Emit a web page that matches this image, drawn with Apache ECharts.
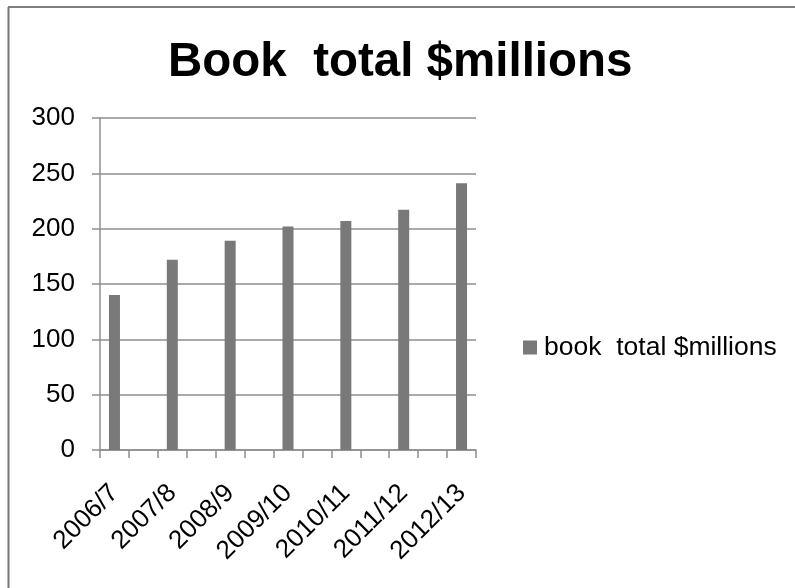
<!DOCTYPE html>
<html>
<head>
<meta charset="utf-8">
<script src="https://cdn.jsdelivr.net/npm/echarts@6/dist/echarts.min.js"></script>
<style>
html,body{margin:0;padding:0;background:#fff;}
#c{width:795px;height:588px;}
</style>
</head>
<body>
<div id="c"></div>
<script>
var categories = ['2006/7','','2007/8','','2008/9','','2009/10','','2010/11','','2011/12','','2012/13'];
var values = [140,null,172,null,189,null,202,null,207,null,217,null,241];
var yTicks = {min:0, max:300, interval:50};
var seriesName = 'book  total $millions';
var titleText = 'Book  total $millions';

var chart = echarts.init(document.getElementById('c'));
var font = 'Liberation Sans, Arial, sans-serif';
chart.setOption({
  animation:false,
  backgroundColor:'#fff',
  textStyle:{fontFamily:font},
  title:{
    text:titleText, left:168, top:39, padding:0,
    textStyle:{fontFamily:font, fontWeight:'bold', fontSize:47.5, color:'#000', lineHeight:48}
  },
  legend:{
    left:523, top:334, padding:0, icon:'rect', itemWidth:14, itemHeight:14, itemGap:0,
    textStyle:{fontFamily:font, fontSize:26.5, color:'#000', padding:[0,0,0,2]},
    data:[seriesName]
  },
  grid:{left:100, right:319, top:118, bottom:138, containLabel:false},
  xAxis:{
    type:'category', data:categories,
    axisLine:{lineStyle:{color:'#8e8e8e', width:1.5}},
    axisTick:{show:true, interval:0, length:8, lineStyle:{color:'#8e8e8e', width:1.5}},
    axisLabel:{interval:0, rotate:45, margin:39, align:'right', verticalAlign:'middle',
      fontFamily:font, fontSize:26, color:'#000'}
  },
  yAxis:{
    type:'value', min:yTicks.min, max:yTicks.max, interval:yTicks.interval,
    axisLine:{show:true, lineStyle:{color:'#8e8e8e', width:1.5}},
    axisTick:{show:true, length:8, lineStyle:{color:'#8e8e8e', width:1.5}},
    splitLine:{lineStyle:{color:'#8e8e8e', width:1.5}},
    axisLabel:{margin:25, fontFamily:font, fontSize:26, color:'#000'}
  },
  series:[{
    name:seriesName, type:'bar', data:values, barWidth:11,
    itemStyle:{color:'#797979'}
  }],
  graphic:[
    {type:'line', shape:{x1:8, y1:7, x2:795, y2:7}, style:{stroke:'#000', lineWidth:1.2}},
    {type:'line', shape:{x1:8.5, y1:7, x2:8.5, y2:588}, style:{stroke:'#777', lineWidth:2}}
  ]
});
</script>
</body>
</html>
